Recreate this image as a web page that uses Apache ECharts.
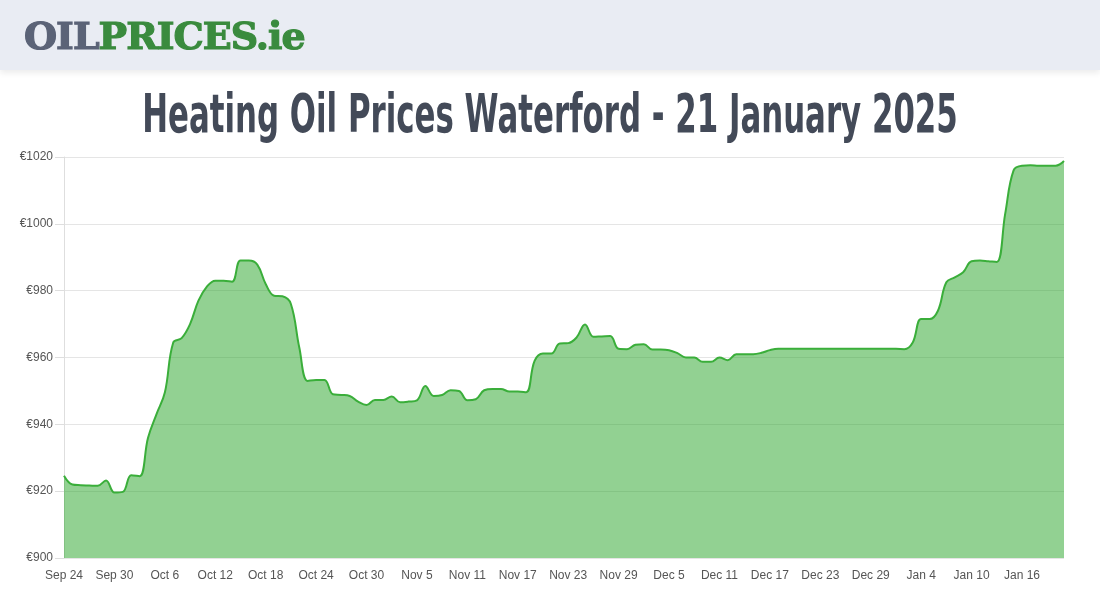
<!DOCTYPE html>
<html>
<head>
<meta charset="utf-8">
<title>Heating Oil Prices Waterford</title>
<script src="https://cdn.jsdelivr.net/npm/echarts@6/dist/echarts.min.js"></script>
<style>
html,body{margin:0;padding:0;background:#fff;}
#header{position:absolute;left:0;top:0;width:1100px;height:70px;background:#e9ecf3;box-shadow:0 3px 6px rgba(0,0,0,0.08);z-index:2;}
#logo{position:absolute;left:24px;top:13px;font-family:"DejaVu Serif",serif;font-weight:bold;font-size:38px;letter-spacing:-1px;line-height:46px;white-space:nowrap;}
#logo .oil{color:#5b6377;-webkit-text-stroke:1.2px #5b6377;}
#logo .rest{color:#3a8b3e;-webkit-text-stroke:1.2px #3a8b3e;}
#title{position:absolute;left:0;top:83px;width:1100px;height:62px;z-index:2;}
#title span{position:absolute;left:550px;top:0;font-family:"DejaVu Sans",sans-serif;font-weight:bold;font-size:54px;line-height:62px;color:#434a58;transform:scaleX(0.571) translateX(-50%);transform-origin:0 0;white-space:nowrap;}
#chart{position:absolute;left:0;top:0;width:1100px;height:600px;}
</style>
</head>
<body>
<div id="header"><div id="logo"><span class="oil">OIL</span><span class="rest">PRICES.ie</span></div></div>
<div id="title"><span>Heating Oil Prices Waterford - 21 January 2025</span></div>
<div id="chart"></div>
<script>
var startDate = new Date(2024, 8, 24);
var monthNames = ['Jan','Feb','Mar','Apr','May','Jun','Jul','Aug','Sep','Oct','Nov','Dec'];
// daily prices, Sep 24 2024 - Jan 21 2025
var prices = [
	924.6, 922.0, 921.8, 921.7, 921.6, 923.2, 919.6, 919.8, 924.8, 924.5,
	936.0, 943.0, 949.5, 964.5, 965.8, 970.0, 977.0, 981.2, 983.0, 983.0,
	982.7, 989.0, 989.0, 987.8, 982.0, 978.5, 978.3, 976.0, 963.0, 953.0,
	953.3, 953.3, 949.0, 948.8, 948.5, 946.8, 945.8, 947.3, 947.3, 948.3,
	946.6, 946.8, 947.2, 951.5, 948.5, 948.8, 950.2, 950.0, 947.2, 947.5,
	950.2, 950.6, 950.6, 949.8, 949.8, 949.6, 959.0, 961.2, 961.2, 964.2,
	964.3, 966.0, 969.9, 966.2, 966.3, 966.4, 962.6, 962.5, 963.8, 964.0,
	962.4, 962.4, 962.2, 961.3, 960.0, 960.0, 958.7, 958.7, 960.0, 959.2,
	961.0, 961.0, 961.0, 961.4, 962.2, 962.6, 962.6, 962.6, 962.6, 962.6,
	962.6, 962.6, 962.6, 962.6, 962.6, 962.6, 962.6, 962.6, 962.6, 962.6,
	962.5, 964.5, 971.5, 971.5, 974.0, 982.5, 984.0, 985.5, 988.8, 989.0,
	988.8, 988.6, 1003.0, 1016.0, 1017.4, 1017.5, 1017.4, 1017.4, 1017.4, 1018.8
];
var categories = [];
for (var i = 0; i < prices.length; i++) {
	var d = new Date(startDate.getTime());
	d.setDate(startDate.getDate() + i);
	categories.push(monthNames[d.getMonth()] + ' ' + d.getDate());
}
var yMin = 900, yMax = 1020, yStep = 20;

var myChart = echarts.init(document.getElementById('chart'));
myChart.setOption({
	animation : false,
	grid : {
		left : 64,
		right : 36,
		top : 157,
		bottom : 42,
		containLabel : false
	},
	xAxis : {
		type : 'category',
		boundaryGap : false,
		data : categories,
		axisLine : { show : false },
		axisTick : { show : false },
		axisLabel : {
			interval : 5,
			color : '#555',
			fontSize : 12,
			fontFamily : '"Liberation Sans", Arial, sans-serif',
			margin : 12
		},
		splitLine : { show : false }
	},
	yAxis : {
		type : 'value',
		min : yMin,
		max : yMax,
		interval : yStep,
		axisLine : { show : true, lineStyle : { color : '#dedede' } },
		axisTick : { show : true, length : 9, lineStyle : { color : '#dedede' } },
		axisLabel : {
			color : '#555',
			fontSize : 12,
			fontFamily : '"Liberation Sans", Arial, sans-serif',
			margin : 11,
			formatter : function(v) { return '€' + v; }
		},
		splitLine : { show : true, lineStyle : { color : '#e5e5e5' } }
	},
	series : [ {
		type : 'line',
		data : prices,
		smooth : 0.4,
		showSymbol : false,
		lineStyle : { color : '#3aae3a', width : 2 },
		itemStyle : { color : '#3aae3a' },
		areaStyle : { color : '#2aa52a', opacity : 0.51 }
	} ]
});
</script>
</body>
</html>
